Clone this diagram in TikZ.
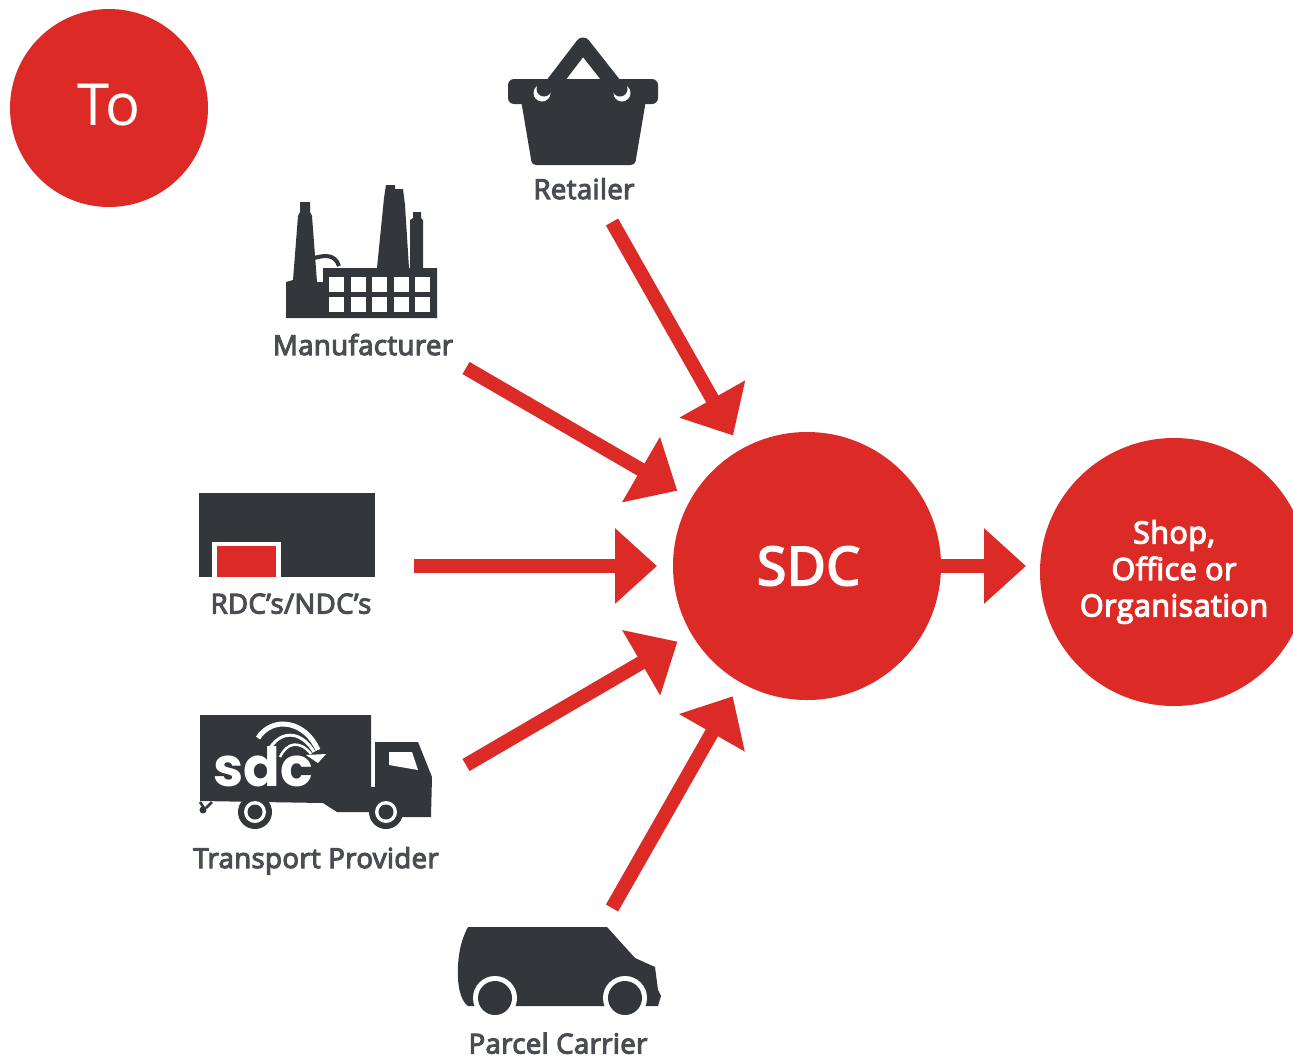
\documentclass[tikz,border=0pt]{standalone}
\usepackage{fontspec}
\setmainfont{Open Sans}
\newfontfamily\semifont[FakeBold=4,LetterSpace=1.5]{Open Sans}
\newfontfamily\logofont{Poppins}
\usetikzlibrary{arrows.meta,calc}
\definecolor{sdcred}{HTML}{DC2B26}
\definecolor{icondark}{HTML}{33363B}
\definecolor{labelgrey}{HTML}{4A4D52}
\tikzset{
  hub/.style={circle, fill=sdcred, text=white, inner sep=0pt, outer sep=0pt, align=center},
  caption/.style={text=labelgrey, inner sep=0pt, text height=19pt, text depth=0pt, font=\fontsize{27.5}{30}\selectfont\semifont},
  flow/.style={draw=sdcred, line width=14pt, -{Triangle[length=42pt,width=73pt]}, shorten >=16pt},
  icon/.style={fill=icondark, draw=none},
  gap/.style={fill=white, draw=none}
}
\begin{document}
\begin{tikzpicture}[x=1pt,y=-1pt]
\clip (0,0) rectangle (1293,1058);
\fill[white] (0,0) rectangle (1293,1058);

\node[hub, minimum size=198pt, font=\fontsize{58}{60}\selectfont] (to) at (109,108) {\raisebox{6pt}{To}};
\node[hub, minimum size=268pt, font=\fontsize{53}{60}\selectfont\semifont] (sdc) at (807,566) {\hspace*{3pt}SDC};
\node[hub, minimum size=268pt, font=\fontsize{30.5}{36.5}\selectfont\semifont] (shop) at (1174,572) {\raisebox{2pt}{Shop,}\\\raisebox{2pt}{Office or}\\\raisebox{2pt}{Organisation}};

\node[caption] (retailer) at (584,189.5) {Retailer};
\node[caption] (manufacturer) at (363,345.5) {Manufacturer};
\node[caption] (rdc) at (291,604) {RDC’s/NDC’s};
\node[caption] (transport) at (316,858.5) {Transport Provider};
\node[caption] (parcel) at (558,1044) {Parcel Carrier};

% arrows
\coordinate (retailerout) at (612,222);
\coordinate (manufacturerout) at (466,368);
\coordinate (rdcout) at (414,566);
\coordinate (transportout) at (466,765);
\coordinate (parcelout) at (612,908);
\draw[flow] (retailerout) -- (sdc);
\draw[flow] (manufacturerout) -- (sdc);
\draw[flow] (rdcout) -- (sdc);
\draw[flow] (transportout) -- (sdc);
\draw[flow] (parcelout) -- (sdc);
\draw[flow, shorten >=14pt] (sdc.east) -- (sdc.east -| shop.west);

% basket
\draw[icondark, line width=15pt, line join=round] (547,92) -- (583,45) -- (620,92);
\fill[icon, rounded corners=6pt] (508,79) rectangle (658,104);
\fill[icon, rounded corners=4pt] (521,100) -- (646,100) -- (635,165) -- (532,165) -- cycle;
\foreach \cx in {542,622} {
  \fill[gap] (\cx,93) circle (8.5pt);
}
\fill[icon] (544,89) circle (7.5pt);
\fill[icon] (620,89) circle (7.5pt);

% factory
\fill[icon] (286,318) -- (286,282) -- (293,280) -- (298,216) -- (300,212) -- (300,202) -- (310,202) -- (310,212) -- (312,216) -- (317,282) -- (323,282)
  -- (323,268) -- (377,268) -- (384,198) -- (386,185) -- (395,185) -- (395,189) -- (403,189) -- (405,205) -- (409,268)
  -- (410,268) -- (410,220) -- (413,218) -- (413,212) -- (421,212) -- (421,218) -- (423,220) -- (423,268) -- (437,268)
  -- (437,318) -- cycle;
\foreach \wx in {329,351,372,394,415}
  \foreach \wy in {277,297}
    \fill[gap] (\wx,\wy) rectangle ++(14.5,15);
\draw[icondark, line width=4pt] (314,258) .. controls (325,255) and (335,254) .. (339,266);

% warehouse
\fill[icon] (199,493) rectangle (375,577);
\fill[gap] (212,542) rectangle (281,577);
\fill[sdcred] (217,546) rectangle (276,577);

% truck
\fill[icon] (200,715) -- (371,715) -- (371,787) -- (375,787) -- (375,742) -- (418,742) -- (432,777) -- (431,817)
  -- (395,817) -- (375,812) -- (337,812) -- (323,803) -- (200,801) -- cycle;
\fill[gap] (389,752) -- (412,752) -- (418,770) -- (389,765) -- cycle;
\draw[icondark, line width=2.5pt] (200,802) -- (204,808) (212,802) -- (206,808);
\fill[icondark] (203,810) circle (3.5pt);
\foreach \cx in {255,386} {
  \fill[icon] (\cx,812) circle (17pt);
  \fill[gap] (\cx,812) circle (11pt);
  \fill[icon] (\cx,812) circle (7.5pt);
}
\node[text=white, inner sep=0pt, font=\fontsize{54}{60}\selectfont\logofont\bfseries] (logo) at (263,767) {sdc};
\draw[white, line width=5pt] (258,738) .. controls (272,716) and (305,720) .. (318,750);
\draw[white, line width=3pt] (270,748) .. controls (283,728) and (303,733) .. (314,752);
\draw[white, line width=2.5pt] (280,757) .. controls (287,742) and (300,740) .. (311,754);
\fill[white] (306,755) -- (326,754) -- (318,763) -- cycle;

% van
\fill[icon] (468,927) -- (607,927) -- (635,958) -- (655,967) -- (658,990) -- (661,996) -- (658,1006) -- (468,1006)
  .. controls (460,1000) and (457,985) .. (458,965) .. controls (459,950) and (462,938) .. (468,927) -- cycle;
\foreach \cx in {495,625} {
  \fill[gap] (\cx,998) circle (22pt);
}
\fill[gap] (450,1006.5) rectangle (473,1022);
\fill[gap] (517,1006.5) rectangle (603,1022);
\fill[gap] (647,1006.5) rectangle (670,1022);
\foreach \cx in {495,625}
  \fill[icon] (\cx,998) circle (17pt);
\end{tikzpicture}
\end{document}
